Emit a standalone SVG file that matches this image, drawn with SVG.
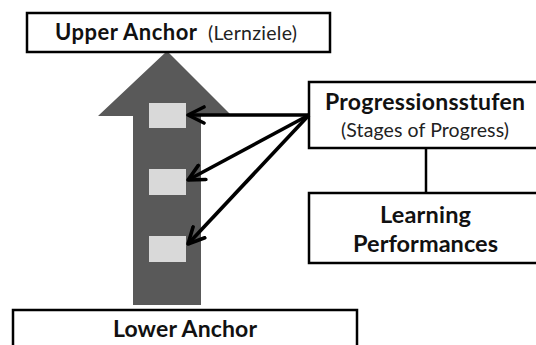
<svg xmlns="http://www.w3.org/2000/svg" width="536" height="345" viewBox="0 0 536 345">
  <style>
    .box { fill: #ffffff; stroke: #000000; stroke-width: 2.5; }
    .b { font-family: Lato, "Liberation Sans", sans-serif; font-weight: bold; fill: #111111; }
    .r { font-family: Lato, "Liberation Sans", sans-serif; font-weight: normal; fill: #222222; }
    .step { fill: #d9d9d9; }
    .conn { stroke: #000000; stroke-width: 3.6; fill: none; }
  </style>
  <defs>
    <marker id="chev" viewBox="0 0 20 20" refX="18" refY="10" markerWidth="20" markerHeight="20" markerUnits="userSpaceOnUse" orient="auto">
      <path d="M2,2 L18,10 L2,18" fill="none" stroke="#000000" stroke-width="3.6" stroke-linecap="round" stroke-linejoin="round"/>
    </marker>
  </defs>
  <rect width="536" height="345" fill="#ffffff"/>

  <g id="big-arrow">
    <polygon points="167,51 232,116 201,116 201,305 133,305 133,116 98,116" fill="#595959"/>
  </g>

  <g id="step1"><rect class="step" x="149" y="103" width="37" height="25"/></g>
  <g id="step2"><rect class="step" x="149" y="169" width="37" height="26"/></g>
  <g id="step3"><rect class="step" x="149" y="236" width="37" height="26"/></g>

  <g id="upper-anchor">
    <rect class="box" x="27" y="13" width="303" height="39"/>
    <text class="b" x="55" y="40" font-size="22" textLength="142">Upper Anchor</text>
    <text class="r" x="208" y="40" font-size="19.5" textLength="89">(Lernziele)</text>
  </g>

  <g id="progressionsstufen">
    <rect class="box" x="309" y="82" width="240" height="66"/>
    <text class="b" x="325" y="110" font-size="23" textLength="200">Progressionsstufen</text>
    <text class="r" x="341" y="137" font-size="19.5" textLength="168">(Stages of Progress)</text>
  </g>

  <g id="learning-performances">
    <rect class="box" x="309" y="193" width="240" height="70"/>
    <text class="b" x="380" y="223" font-size="23.5" textLength="91">Learning</text>
    <text class="b" x="353" y="252" font-size="23.5" textLength="145">Performances</text>
  </g>

  <g id="lower-anchor">
    <rect class="box" x="13" y="310" width="344" height="45"/>
    <text class="b" x="113" y="337" font-size="23" textLength="144">Lower Anchor</text>
  </g>

  <g id="connectors">
    <line class="conn" x1="309" y1="115" x2="188" y2="115" marker-end="url(#chev)"/>
    <line class="conn" x1="309" y1="115" x2="188" y2="180" marker-end="url(#chev)"/>
    <line class="conn" x1="309" y1="115" x2="188" y2="244" marker-end="url(#chev)"/>
    <line stroke="#000000" stroke-width="2.5" x1="426" y1="148" x2="426" y2="193"/>
  </g>
</svg>
